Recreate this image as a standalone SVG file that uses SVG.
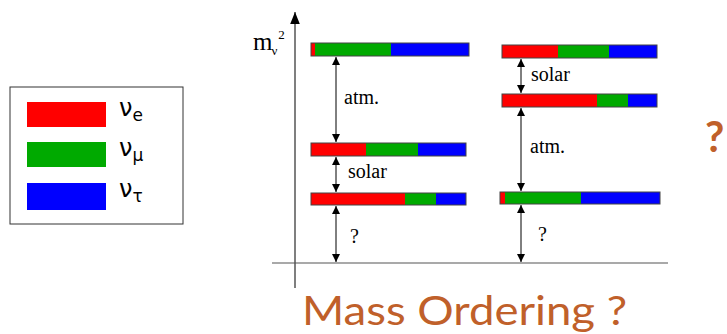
<svg xmlns="http://www.w3.org/2000/svg" width="727" height="334" viewBox="0 0 727 334">
<style>
.bar{stroke:#444;stroke-width:1}
.r{fill:#FF0000}.g{fill:#00AA00}.b{fill:#0000FF}
.arr{stroke:#000;stroke-width:1;fill:none;marker-start:url(#ah);marker-end:url(#ah)}
.lbl{font-family:"Liberation Serif","Times New Roman",serif;font-size:20px;fill:#000}
.leg{font-family:"DejaVu Sans",sans-serif;font-size:24px;fill:#000}
.sub{font-family:"DejaVu Sans",sans-serif;font-size:17px;fill:#000}
.or{font-family:Lato,"Open Sans",sans-serif;fill:#C0602A}
</style>
<defs>
<marker id="ah" viewBox="0 0 10 10" refX="10" refY="5" markerWidth="8" markerHeight="8" markerUnits="userSpaceOnUse" orient="auto-start-reverse">
<path d="M0,0 L10,5 L0,10 z" fill="#000"/>
</marker>
<marker id="ax" viewBox="0 0 10 10" refX="10" refY="5" markerWidth="12" markerHeight="12" markerUnits="userSpaceOnUse" orient="auto">
<path d="M0,1 L10,5 L0,9 z" fill="#000"/>
</marker>
</defs>
<g id="legend">
<rect x="10" y="87" width="173" height="137" fill="#fff" stroke="#333" stroke-width="1"/>
<rect class="r" x="27" y="102" width="79" height="25"/>
<rect class="g" x="27" y="142" width="79" height="25"/>
<rect class="b" x="27" y="183" width="79" height="27"/>
<text class="leg" x="119" y="116">ν<tspan class="sub" dy="5">e</tspan></text>
<text class="leg" x="119" y="156">ν<tspan class="sub" dy="5">μ</tspan></text>
<text class="leg" x="119" y="197">ν<tspan class="sub" dy="5">τ</tspan></text>
</g>
<g id="axes">
<line x1="295" y1="288" x2="295" y2="12" stroke="#555" stroke-width="1.5" marker-end="url(#ax)"/>
<line x1="272" y1="263" x2="668" y2="263" stroke="#555" stroke-width="1.2"/>
<text class="lbl" x="253" y="50" style="font-size:25px">m<tspan style="font-size:13px" dx="-1" dy="5">ν</tspan><tspan style="font-size:13px" dx="1" dy="-16">2</tspan></text>
</g>
<g id="normal-top">
<rect class="r" x="311" y="43" width="4" height="13"/><rect class="g" x="315" y="43" width="76" height="13"/><rect class="b" x="391" y="43" width="78" height="13"/>
<rect class="bar" x="311" y="43" width="158" height="13" fill="none"/>
</g>
<g id="normal-mid">
<rect class="r" x="311" y="143" width="55" height="13"/><rect class="g" x="366" y="143" width="52" height="13"/><rect class="b" x="418" y="143" width="48" height="13"/>
<rect class="bar" x="311" y="143" width="155" height="13" fill="none"/>
</g>
<g id="normal-bot">
<rect class="r" x="311" y="193" width="94" height="12"/><rect class="g" x="405" y="193" width="31" height="12"/><rect class="b" x="436" y="193" width="30" height="12"/>
<rect class="bar" x="311" y="193" width="155" height="12" fill="none"/>
</g>
<g id="inv-top">
<rect class="r" x="502" y="45" width="56" height="13"/><rect class="g" x="558" y="45" width="51" height="13"/><rect class="b" x="609" y="45" width="48" height="13"/>
<rect class="bar" x="502" y="45" width="155" height="13" fill="none"/>
</g>
<g id="inv-mid">
<rect class="r" x="502" y="94" width="95" height="13"/><rect class="g" x="597" y="94" width="31" height="13"/><rect class="b" x="628" y="94" width="29" height="13"/>
<rect class="bar" x="502" y="94" width="155" height="13" fill="none"/>
</g>
<g id="inv-bot">
<rect class="r" x="500" y="192" width="5" height="12"/><rect class="g" x="505" y="192" width="76" height="12"/><rect class="b" x="581" y="192" width="79" height="12"/>
<rect class="bar" x="500" y="192" width="160" height="12" fill="none"/>
</g>
<g id="connectors">
<line class="arr" x1="336" y1="57" x2="336" y2="142"/>
<line class="arr" x1="336" y1="157" x2="336" y2="192"/>
<line class="arr" x1="336" y1="206" x2="336" y2="262"/>
<line class="arr" x1="521" y1="59" x2="521" y2="93"/>
<line class="arr" x1="521" y1="108" x2="521" y2="191"/>
<line class="arr" x1="521" y1="205" x2="521" y2="262"/>
</g>
<g id="labels">
<text class="lbl" x="344" y="104">atm.</text>
<text class="lbl" x="348" y="178">solar</text>
<text class="lbl" x="350" y="243">?</text>
<text class="lbl" x="531" y="81">solar</text>
<text class="lbl" x="530" y="153">atm.</text>
<text class="lbl" x="538" y="241">?</text>
<text class="or" x="302" y="325" font-size="41" textLength="325" lengthAdjust="spacingAndGlyphs">Mass Ordering ?</text>
<text class="or" x="705" y="152" font-size="42" font-weight="bold">?</text>
</g>
</svg>
